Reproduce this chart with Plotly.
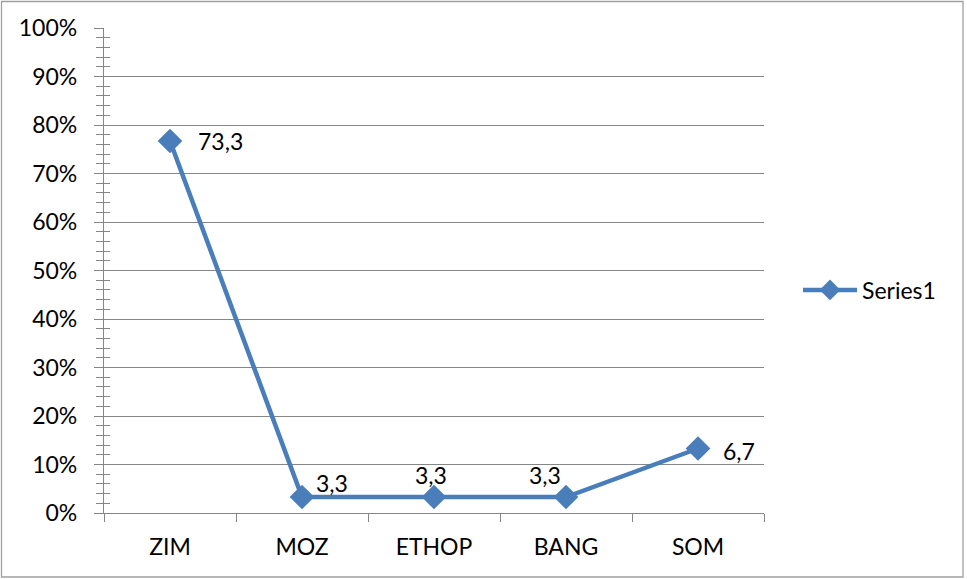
import plotly.graph_objects as go

categories = ["ZIM", "MOZ", "ETHOP", "BANG", "SOM"]
values = [0.767, 0.033, 0.033, 0.033, 0.133]
labels = ["73,3", "3,3", "3,3", "3,3", "6,7"]
label_shifts = [(26, 0, "left"), (30, 14, "center"), (-3, 22, "center"), (-21, 22, "center"), (41, -2, "center")]

FONT = "Lato"
FS = 23
BLUE = "#4A7EBB"
GRID = "#868686"

W, H = 967, 579
L, T = 104, 28
R = W - 764
B = H - 513
pw, ph = W - L - R, H - T - B

fig = go.Figure()
fig.add_trace(go.Scatter(
    x=categories, y=values, mode="lines+markers", name="Series1",
    line=dict(color=BLUE, width=4.5),
    marker=dict(symbol="diamond", size=19, color=BLUE),
    hoverinfo="skip", cliponaxis=False,
))
fig.add_trace(go.Scatter(
    x=categories, y=[None] * len(categories), yaxis="y2",
    showlegend=False, hoverinfo="skip", mode="lines",
))

for c, v, t, (dx, dy, anc) in zip(categories, values, labels, label_shifts):
    fig.add_annotation(
        x=c, y=v, text=t, showarrow=False, xanchor=anc, yanchor="middle",
        xshift=dx, yshift=dy, font=dict(family=FONT, size=FS, color="#000000"),
    )

fig.update_layout(
    width=W, height=H,
    margin=dict(l=L, r=R, t=T, b=B),
    paper_bgcolor="white", plot_bgcolor="white",
    font=dict(family=FONT, size=FS, color="#000000"),
    xaxis=dict(
        type="category", tickson="boundaries", ticks="outside", ticklen=8,
        tickcolor=GRID, tickwidth=1.3, showline=True, linecolor=GRID, linewidth=1.3,
        showgrid=False, ticklabelstandoff=13, range=[-0.5, 4.5],
        tickfont=dict(family=FONT, size=FS),
    ),
    yaxis=dict(
        range=[0, 1], dtick=0.1, tickformat=".0%", ticks="outside", ticklen=9,
        tickcolor=GRID, tickwidth=1.3, showline=True, linecolor=GRID, linewidth=1.3,
        showgrid=True, gridcolor=GRID, gridwidth=1.2, zeroline=False,
        ticklabelstandoff=12,
        minor=dict(dtick=0.02, ticks="outside", ticklen=7, tickcolor=GRID, tickwidth=1.3, showgrid=False),
        tickfont=dict(family=FONT, size=FS),
    ),
    yaxis2=dict(
        range=[0, 1], overlaying="y", side="left", anchor="x",
        dtick=0.1, ticks="inside", ticklen=6, tickcolor=GRID, tickwidth=1.3,
        showticklabels=False, showgrid=False, showline=False, zeroline=False,
        minor=dict(dtick=0.02, ticks="inside", ticklen=6, tickcolor=GRID, tickwidth=1.3, showgrid=False),
    ),
    legend=dict(
        x=(798 - L) / pw, y=(T + ph - 290) / ph, xanchor="left", yanchor="middle",
        font=dict(family=FONT, size=FS), bgcolor="rgba(0,0,0,0)", itemwidth=54,
    ),
    showlegend=True,
)

fig.add_shape(
    type="rect", xref="paper", yref="paper",
    x0=(1.5 - L) / pw, x1=(963 - L) / pw,
    y0=(T + ph - 577) / ph, y1=(T + ph - 1.5) / ph,
    line=dict(color="#A0A0A0", width=1.3), fillcolor="rgba(0,0,0,0)", layer="below",
)

fig.write_html(
    "out.html",
    config={"displayModeBar": False},
    post_script="document.body.style.margin='0px';document.body.style.overflow='hidden';",
)
